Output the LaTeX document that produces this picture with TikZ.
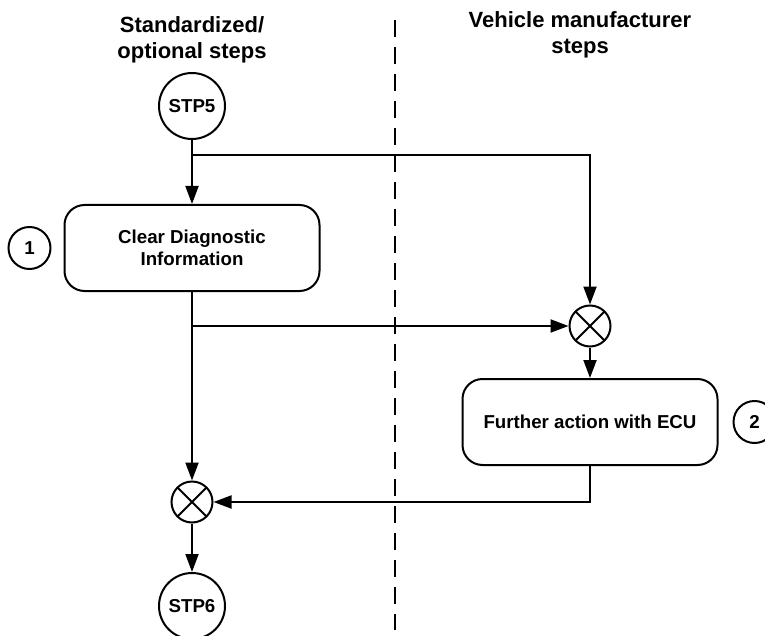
\documentclass[tikz,border=0pt]{standalone}
\usepackage{fontspec}
\setmainfont{Liberation Sans}
\usetikzlibrary{arrows.meta,positioning}
\tikzset{
  lanetitle/.style={align=center, font=\fontsize{22}{26}\selectfont\bfseries},
  stepnode/.style={circle, draw, line width=2pt, minimum size=66pt, inner sep=0pt,
                   font=\fontsize{18.7}{22}\selectfont\bfseries},
  action/.style={rectangle, rounded corners=20pt, draw, line width=2pt, align=center,
                 minimum width=255pt, minimum height=86pt,
                 font=\fontsize{18.7}{22}\selectfont\bfseries},
  joint/.style={circle, draw, line width=2pt, minimum size=41pt, inner sep=0pt,
                path picture={\draw[line width=2pt]
                  (path picture bounding box.north west) -- (path picture bounding box.south east)
                  (path picture bounding box.south west) -- (path picture bounding box.north east);}},
  marker/.style={circle, draw, line width=2pt, minimum size=42pt, inner sep=0pt,
                 font=\fontsize{18.7}{22}\selectfont\bfseries},
  flow/.style={-{Triangle[length=18pt, width=13pt]}, line width=2pt},
  lane/.style={line width=2.5pt, dash pattern=on 17pt off 10pt},
}

\begin{document}
\begin{tikzpicture}[x=1pt, y=-1pt]
  \useasboundingbox (0,0) rectangle (765,636);
  % swim lane titles and divider
  \node[lanetitle] (tStd) at (192,40) {Standardized/\\optional steps};
  \node[lanetitle] (tVm) at (580,35) {Vehicle manufacturer\\steps};
  \coordinate (laneTop) at (395,20);
  \coordinate (laneBot) at (395,630);
  \draw[lane] (laneTop) -- (laneBot);
  % steps
  \node[stepnode] (stp5) at (192,106) {STP5};
  \node[action] (clear) at (192,248) {Clear Diagnostic\\Information};
  \node[marker, left=12pt of clear] (m1) {1};
  \node[joint] (jUp) at (590,326) {};
  \node[action] (further) at (590,422) {Further action with ECU};
  \node[marker, right=14pt of further] (m2) {2};
  \node[joint] (jLow) at (192,502) {};
  \node[stepnode] (stp6) at (192,606) {STP6};
  \coordinate (brA) at (192,155);
  \coordinate (brB) at (192,326);
  % flows
  \draw[flow] (stp5) -- (clear);
  \draw[flow] (brA) -| (jUp);
  \draw[flow] (clear) -- (jLow);
  \draw[flow] (brB) -- (jUp);
  \draw[flow] (jUp) -- (further);
  \draw[flow] (further) |- (jLow);
  \draw[flow] (jLow) -- (stp6);
\end{tikzpicture}
\end{document}
